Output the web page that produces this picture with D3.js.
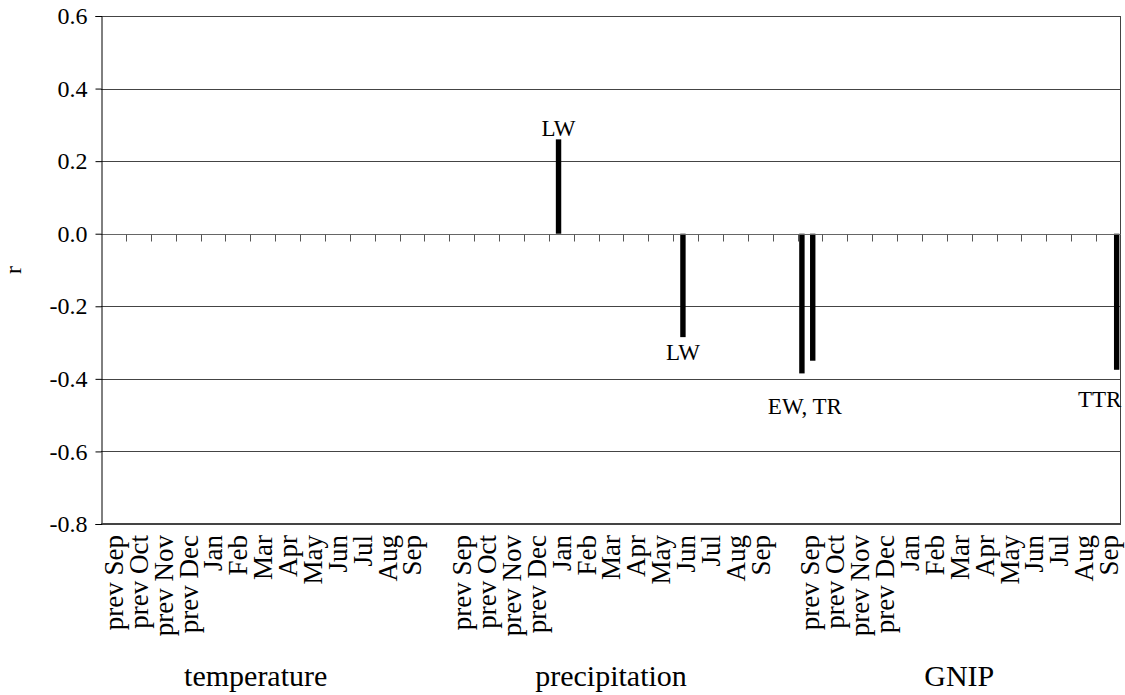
<!DOCTYPE html>
<html>
<head>
<meta charset="utf-8">
<script src="https://cdn.jsdelivr.net/npm/d3@7"></script>
<style>
  html, body { margin: 0; padding: 0; background: #fff; }
  svg { display: block; }
  svg text { font-family: "Liberation Serif", "Times New Roman", serif !important; fill: #000; }
</style>
</head>
<body>
<svg id="chart" width="1125" height="695"></svg>
<script>
// ---------- data ----------
const months = ["prev Sep","prev Oct","prev Nov","prev Dec","Jan","Feb","Mar","Apr","May","Jun","Jul","Aug","Sep"];
const categories = [...months, "", ...months, "", ...months];
const groups = ["temperature", "precipitation", "GNIP"];
const groupStarts = [0, 14, 28];
const seriesNames = ["EW", "LW", "TR", "TTR"];
const yTicks = [0.6, 0.4, 0.2, 0.0, -0.2, -0.4, -0.6, -0.8];

// significant correlations (category index -> r)
const ewValues  = [{cat: 28, r: -0.385}];
const lwValues  = [{cat: 18, r: 0.26}, {cat: 23, r: -0.285}];
const trValues  = [{cat: 28, r: -0.35}];
const ttrValues = [{cat: 40, r: -0.375}];

const annotations = [
  {text: "LW",     cat: 18, series: "LW",  pos: "above", anchor: "middle"},
  {text: "LW",     cat: 23, series: "LW",  pos: "below", anchor: "middle"},
  {text: "EW, TR", cat: 28, series: "EW",  pos: "below", anchor: "middle"},
  {text: "TTR",    cat: 40, series: "TTR", pos: "below", anchor: "end"}
];

// ---------- layout ----------
const svg = d3.select("#chart");
const margin = {left: 101, right: 4, top: 16, bottom: 171};
const W = 1125, H = 695;
const plotW = W - margin.left - margin.right;
const plotH = H - margin.top - margin.bottom;
// pixel nudges for the free-floating text boxes (layout only)
const annotOffsets = [[0, -3], [0, 23], [3, 41], [2, 37]];
const groupLabelNudge = [-7, 0, 0];

const g = svg.append("g").attr("transform", `translate(${margin.left},${margin.top})`);

const x0 = d3.scaleBand().domain(d3.range(categories.length)).range([0, plotW]).paddingInner(0).paddingOuter(0);
const x1 = d3.scaleBand().domain(seriesNames).range([0, x0.bandwidth()]).paddingInner(0).paddingOuter(0.3);
const y = d3.scaleLinear().domain([-0.8, 0.6]).range([plotH, 0]);

// gridlines
g.append("g").selectAll("line").data(yTicks.filter(d => d !== 0)).join("line")
  .attr("x1", 0).attr("x2", plotW)
  .attr("y1", d => Math.round(y(d)) + 0.5).attr("y2", d => Math.round(y(d)) + 0.5)
  .attr("stroke", "#444").attr("stroke-width", 1);

// right border
g.append("line").attr("x1", plotW - 0.5).attr("x2", plotW - 0.5).attr("y1", 0).attr("y2", plotH)
  .attr("stroke", "#444").attr("stroke-width", 1);

// bars
const seriesData = [
  {name: "EW", values: ewValues},
  {name: "LW", values: lwValues},
  {name: "TR", values: trValues},
  {name: "TTR", values: ttrValues}
];
const bars = [];
seriesData.forEach(s => s.values.forEach(v => bars.push({series: s.name, cat: v.cat, r: v.r})));

g.append("g").selectAll("rect").data(bars).join("rect")
  .attr("x", d => x0(d.cat) + x1(d.series))
  .attr("width", x1.bandwidth())
  .attr("y", d => y(Math.max(0, d.r)))
  .attr("height", d => Math.abs(y(d.r) - y(0)))
  .attr("fill", "#000");

// x axis at zero with boundary ticks
const zeroY = Math.round(y(0)) + 0.5;
g.append("line").attr("x1", 0).attr("x2", plotW).attr("y1", zeroY).attr("y2", zeroY)
  .attr("stroke", "#666").attr("stroke-width", 1);
g.append("g").selectAll("line").data(d3.range(1, categories.length)).join("line")
  .attr("x1", d => Math.round(x0(d)) + 0.5).attr("x2", d => Math.round(x0(d)) + 0.5)
  .attr("y1", zeroY).attr("y2", zeroY + 7)
  .attr("stroke", "#555").attr("stroke-width", 1);

// y axis
const yAxis = d3.axisLeft(y).tickValues(yTicks).tickFormat(d => d3.format(".1f")(d).replace("\u2212", "-")).tickSize(6).tickPadding(8);
const ya = g.append("g").attr("transform", "translate(0.5,0)").call(yAxis);
ya.attr("font-family", null).attr("font-size", null);
ya.select(".domain").attr("stroke", "#000");
ya.selectAll(".tick line").attr("stroke", "#000");
ya.selectAll(".tick text").attr("font-size", 24);

// bottom border
g.append("line").attr("x1", 0).attr("x2", plotW).attr("y1", plotH - 0.5).attr("y2", plotH - 0.5)
  .attr("stroke", "#444");

// x tick labels (rotated)
g.append("g").selectAll("text").data(categories.map((c, i) => ({c, i})).filter(d => d.c !== "")).join("text")
  .attr("transform", d => `translate(${x0(d.i) + x0.bandwidth() / 2},${plotH + 11}) rotate(-90)`)
  .attr("text-anchor", "end").attr("dy", "0.35em")
  .attr("font-size", 27)
  .text(d => d.c);

// group labels
g.append("g").selectAll("text").data(groups.map((gname, i) => ({gname, i, start: groupStarts[i]}))).join("text")
  .attr("x", d => (x0(d.start) + x0(d.start + 12) + x0.bandwidth()) / 2 + groupLabelNudge[d.i])
  .attr("y", 686 - margin.top)
  .attr("text-anchor", "middle").attr("font-size", 30)
  .text(d => d.gname);

// y axis title
svg.append("text").attr("transform", `translate(21,${margin.top + y(-0.1)}) rotate(-90)`)
  .attr("text-anchor", "middle").attr("font-size", 24).text("r");

// annotations
const valueOf = (series, cat) => bars.find(b => b.series === series && b.cat === cat).r;
g.append("g").selectAll("text").data(annotations.map((a, i) => ({...a, i}))).join("text")
  .attr("x", d => {
    const bx = x0(d.cat) + x1(d.series);
    const base = d.anchor === "end" ? bx + x1.bandwidth() : bx + x1.bandwidth() / 2;
    return base + annotOffsets[d.i][0];
  })
  .attr("y", d => y(valueOf(d.series, d.cat)) + annotOffsets[d.i][1])
  .attr("text-anchor", d => d.anchor)
  .attr("font-size", 23)
  .text(d => d.text);
</script>
</body>
</html>
